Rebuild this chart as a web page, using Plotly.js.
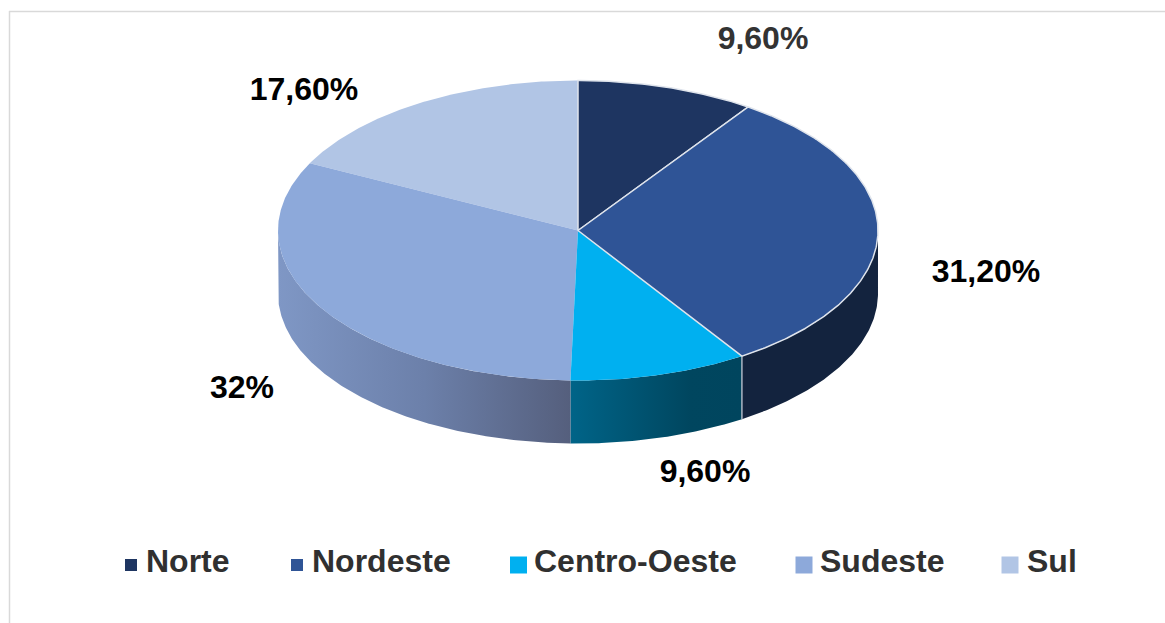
<!DOCTYPE html>
<html>
<head>
<meta charset="utf-8">
<script src="https://cdn.plot.ly/plotly-3.0.1.min.js"></script>
<style>html,body{margin:0;padding:0;background:#fff}#chart{width:1165px;height:623px}</style>
</head>
<body>
<div id="chart"></div>
<script>
// Data
const categories = ['Norte', 'Nordeste', 'Centro-Oeste', 'Sudeste', 'Sul'];
const shares = [9.6, 31.2, 9.6, 32, 17.6];
const shareLabels = ['9,60%', '31,20%', '9,60%', '32%', '17,60%'];
const topColors = ['#1e3561', '#2f5496', '#00b0f0', '#8da9da', '#b1c5e5'];
const sideScales = [
  [[0, '#14233f'], [1, '#14233f']],
  [[0, '#13233e'], [1, '#13233e']],
  [[0, '#006488'], [0.7, '#00465f'], [1, '#00455e']],
  [[0, '#7f97c5'], [0.5, '#6c80aa'], [1, '#555f7d']],
  [[0, '#8a9ab5'], [1, '#8a9ab5']]
];

// Layout of the drawn disc, in axis units (the axes span the page in pixels)
const cx = 578, cy = 230.5, rx = 300, ry = 150, depth = 63;
const labelX = [763, 986, 705, 242, 304];
const labelY = [41, 274, 474, 390, 92];
const labelColors = ['#333333', '#000000', '#000000', '#000000', '#000000'];
const legendMarkX = [131, 297, 518.5, 804, 1010];
const legendMarkSize = [12, 12, 17, 17, 17];
const legendTextX = [146, 312, 534, 820, 1027];
const legendY = 564;
const legendMarkY = 565;

const pt = (deg, dy) => {
  const a = deg * Math.PI / 180;
  return [cx + rx * Math.sin(a), cy - ry * Math.cos(a) + (dy || 0)];
};
const arc = (a0, a1, dy) => {
  const out = [];
  const n = Math.max(2, Math.ceil(Math.abs(a1 - a0) * 2));
  for (let i = 0; i <= n; i++) out.push(pt(a0 + (a1 - a0) * i / n, dy));
  return out;
};

const total = shares.reduce((s, v) => s + v, 0);
let run = 0;
const bounds = shares.map(v => {
  const r = [run / total * 360, (run + v) / total * 360];
  run += v;
  return r;
});

const traces = [];

// Side walls (only the part of the rim that faces the viewer)
bounds.forEach((b, i) => {
  const a0 = Math.max(b[0], 90), a1 = Math.min(b[1], 270);
  if (a1 <= a0) return;
  const poly = arc(a0, a1, 0).concat(arc(a1, a0, depth));
  poly.push(poly[0]);
  traces.push({
    type: 'scatter', mode: 'lines', hoverinfo: 'skip', showlegend: false,
    x: poly.map(p => p[0]), y: poly.map(p => p[1]),
    line: { width: 0 }, fill: 'toself',
    fillgradient: { type: 'horizontal', colorscale: sideScales[i] }
  });
});

// Divider on the wall between Nordeste and Centro-Oeste
const edge = bounds[1][1];
traces.push({
  type: 'scatter', mode: 'lines', hoverinfo: 'skip', showlegend: false,
  x: [pt(edge, 0)[0], pt(edge, depth)[0]], y: [pt(edge, 0)[1], pt(edge, depth)[1]],
  line: { color: '#aab4c2', width: 1.5 }
});

// Top faces; the two outlined slices are drawn last
[4, 3, 2, 0, 1].forEach(i => {
  const b = bounds[i];
  const poly = [[cx, cy]].concat(arc(b[0], b[1], 0));
  poly.push([cx, cy]);
  const outlined = i < 2;
  traces.push({
    type: 'scatter', mode: 'lines', name: categories[i], hoverinfo: 'name', showlegend: false,
    x: poly.map(p => p[0]), y: poly.map(p => p[1]),
    fill: 'toself', fillcolor: topColors[i],
    line: { width: outlined ? 1.5 : 0, color: '#dfe4ec' }
  });
});

// Value labels
traces.push({
  type: 'scatter', mode: 'text', hoverinfo: 'skip', showlegend: false,
  x: labelX, y: labelY, text: shareLabels, textposition: 'middle center',
  textfont: { family: 'Liberation Sans, Arial, sans-serif', size: 32, weight: 700, color: labelColors }
});

// Legend
traces.push({
  type: 'scatter', mode: 'markers', hoverinfo: 'skip', showlegend: false,
  x: legendMarkX, y: categories.map(() => legendMarkY),
  marker: { symbol: 'square', size: legendMarkSize, color: topColors, opacity: 1, line: { width: 0 } }
});
traces.push({
  type: 'scatter', mode: 'text', hoverinfo: 'skip', showlegend: false,
  x: legendTextX, y: categories.map(() => legendY), text: categories, textposition: 'middle right',
  textfont: { family: 'Liberation Sans, Arial, sans-serif', size: 32, weight: 700, color: '#303030' }
});

const layout = {
  width: 1165, height: 623,
  margin: { l: 0, r: 0, t: 0, b: 0 },
  paper_bgcolor: '#ffffff', plot_bgcolor: '#ffffff',
  showlegend: false,
  xaxis: { range: [0, 1165], visible: false, fixedrange: true },
  yaxis: { range: [623, 0], visible: false, fixedrange: true },
  shapes: [
    { type: 'line', xref: 'x', yref: 'y', x0: 9, x1: 1165, y0: 11.5, y1: 11.5, line: { color: '#d9d9d9', width: 1.5 } },
    { type: 'line', xref: 'x', yref: 'y', x0: 9.5, x1: 9.5, y0: 11, y1: 623, line: { color: '#d9d9d9', width: 1.5 } }
  ]
};

Plotly.newPlot('chart', traces, layout, { displayModeBar: false, staticPlot: false });
</script>
</body>
</html>
